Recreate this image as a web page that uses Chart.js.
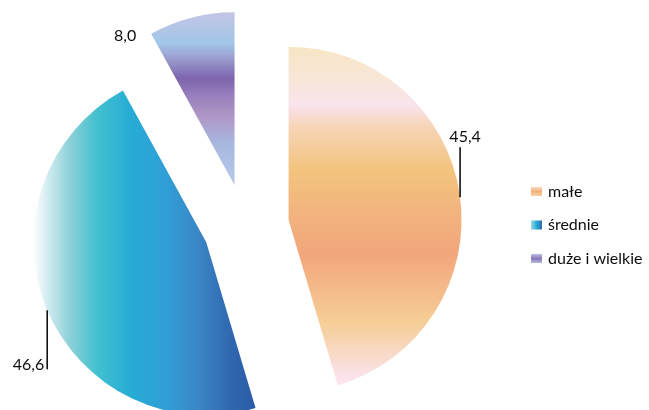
<!DOCTYPE html>
<html>
<head>
<meta charset="utf-8">
<script src="https://cdn.jsdelivr.net/npm/chart.js@4.4.1/dist/chart.umd.min.js"></script>
<style>
  html, body { margin: 0; padding: 0; background: #fff; }
  #wrap { width: 649px; height: 410px; position: relative; }
</style>
</head>
<body>
<div id="wrap"><canvas id="pie"></canvas></div>
<script>
const categories = ['małe', 'średnie', 'duże i wielkie'];
const shares = [45.4, 46.6, 8.0];
const shareLabels = ['45,4', '46,6', '8,0'];

const RADIUS = 173;
const EXPLODE = [44, 42, 42];
const FONT = '16px Lato, "Noto Sans", sans-serif';
const TEXT_COLOR = '#0d0d0d';

// kolory gradientow: [ulamek srednicy, kolor]
const sliceFills = [
  { dir: 'y', stops: [[0, '#F7E5C4'], [0.10, '#F8E6DA'], [0.17, '#F9E3EE'], [0.23, '#F6D5B8'], [0.36, '#F3C37D'],
                      [0.5, '#F2B17E'], [0.6, '#F2A67C'], [0.8, '#F6CE98'], [0.95, '#FAE2E8'], [1, '#FBE6EE']] },
  { dir: 'x', stops: [[0, '#FFFFFF'], [0.015, '#EEF7FA'], [0.107, '#8CD0D8'], [0.185, '#42C0CF'], [0.28, '#27ACD5'],
                      [0.39, '#309DD6'], [0.48, '#3B85C5'], [0.57, '#2F68B0'], [0.64, '#2B5AA7'], [1, '#2B5AA7']] },
  { dir: 'y', stops: [[0, '#C3C5E4'], [0.09, '#A2C6E8'], [0.13, '#9C9FD0'], [0.19, '#7D65AE'], [0.245, '#9A80BD'],
                      [0.3, '#B096C6'], [0.375, '#A7B6DE'], [0.47, '#B5C6E8'], [0.5, '#C0C6E6'], [1, '#C0C6E6']] }
];
const legendFills = [
  { dir: 'y', stops: [[0, '#F8DCBE'], [0.5, '#F4B07A'], [1, '#F8CFA6']] },
  { dir: 'x', stops: [[0, '#9ADAE2'], [0.5, '#28AAD6'], [1, '#2B6BB4']] },
  { dir: 'y', stops: [[0, '#B9C4E6'], [0.5, '#8A76B9'], [1, '#B6B9E0']] }
];

function sliceGeom(chart, i) {
  const a = chart.chartArea;
  const total = shares.reduce((s, v) => s + v, 0);
  let start = -Math.PI / 2;
  for (let k = 0; k < i; k++) start += shares[k] / total * Math.PI * 2;
  const end = start + shares[i] / total * Math.PI * 2;
  const mid = (start + end) / 2;
  return {
    cx: (a.left + a.right) / 2 + Math.cos(mid) * EXPLODE[i],
    cy: (a.top + a.bottom) / 2 + Math.sin(mid) * EXPLODE[i],
    mid
  };
}

function makeGradient(ctx, fill, x0, y0, x1, y1) {
  const g = fill.dir === 'x' ? ctx.createLinearGradient(x0, 0, x1, 0) : ctx.createLinearGradient(0, y0, 0, y1);
  fill.stops.forEach(([p, c]) => g.addColorStop(p, c));
  return g;
}

function sliceColor(context) {
  const chart = context.chart;
  const i = context.dataIndex;
  if (!chart.chartArea) return sliceFills[i].stops[3][1];
  const { cx, cy } = sliceGeom(chart, i);
  return makeGradient(chart.ctx, sliceFills[i], cx - RADIUS, cy - RADIUS, cx + RADIUS, cy + RADIUS);
}

// rozsuniecie wycinkow wzdluz dwusiecznej
const explodePlugin = {
  id: 'explode',
  afterDatasetsUpdate(chart) {
    chart.getDatasetMeta(0).data.forEach((el, i) => {
      const mid = (el.startAngle + el.endAngle) / 2;
      el.x += Math.cos(mid) * EXPLODE[i];
      el.y += Math.sin(mid) * EXPLODE[i];
    });
  }
};

// etykiety wartosci z kreskami
const valueLabelPlugin = {
  id: 'valueLabels',
  afterDatasetsDraw(chart) {
    const ctx = chart.ctx;
    const arcs = chart.getDatasetMeta(0).data;
    ctx.save();
    ctx.font = FONT;
    ctx.fillStyle = TEXT_COLOR;
    ctx.strokeStyle = '#111';
    ctx.lineWidth = 1.6;

    // male: kreska w gore od prawej krawedzi
    let el = arcs[0];
    let ang = -0.13;
    let x = el.x + Math.cos(ang) * el.outerRadius;
    let y = el.y + Math.sin(ang) * el.outerRadius;
    ctx.beginPath(); ctx.moveTo(x, y); ctx.lineTo(x, y - 50); ctx.stroke();
    ctx.textAlign = 'center'; ctx.textBaseline = 'alphabetic';
    ctx.fillText(shareLabels[0], x + 5, y - 55);

    // srednie: kreska w dol od lewej krawedzi
    el = arcs[1];
    ang = 2.737;
    x = el.x + Math.cos(ang) * el.outerRadius;
    y = el.y + Math.sin(ang) * el.outerRadius;
    ctx.beginPath(); ctx.moveTo(x, y); ctx.lineTo(x, y + 59); ctx.stroke();
    ctx.textAlign = 'right';
    ctx.fillText(shareLabels[1], x - 3, y + 60);

    // duze i wielkie: bez kreski, obok naroznika
    el = arcs[2];
    x = el.x + Math.cos(el.startAngle) * el.outerRadius;
    y = el.y + Math.sin(el.startAngle) * el.outerRadius;
    ctx.textAlign = 'right';
    ctx.fillText(shareLabels[2], x - 15, y + 7);
    ctx.restore();
  }
};

// legenda po prawej
const sideLegendPlugin = {
  id: 'sideLegend',
  afterDraw(chart) {
    const ctx = chart.ctx;
    const a = chart.chartArea;
    const left = a.right + 41;
    const midY = (a.top + a.bottom) / 2 - 1;
    const gap = 33.5;
    ctx.save();
    ctx.font = FONT;
    ctx.textBaseline = 'middle';
    categories.forEach((name, i) => {
      const y = midY + (i - 1) * gap;
      const bx = left, by = y - 4.5, bw = 11, bh = 9;
      ctx.fillStyle = makeGradient(ctx, legendFills[i], bx, by, bx + bw, by + bh);
      ctx.fillRect(bx, by, bw, bh);
      ctx.fillStyle = TEXT_COLOR;
      ctx.textAlign = 'left';
      ctx.fillText(name, left + 17, y);
    });
    ctx.restore();
  }
};

new Chart(document.getElementById('pie'), {
  type: 'pie',
  data: {
    labels: categories,
    datasets: [{
      data: shares,
      backgroundColor: sliceColor,
      borderWidth: 0,
      clip: false
    }]
  },
  options: {
    responsive: true,
    maintainAspectRatio: false,
    animation: false,
    events: [],
    radius: RADIUS,
    layout: { padding: { left: 0, right: 159, top: 42, bottom: 0 } },
    plugins: {
      legend: { display: false },
      tooltip: { enabled: false }
    }
  },
  plugins: [explodePlugin, valueLabelPlugin, sideLegendPlugin]
});
</script>
</body>
</html>
